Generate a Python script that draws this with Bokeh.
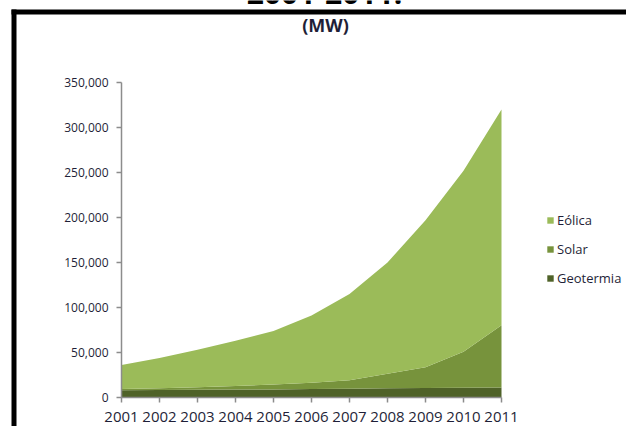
from bokeh.plotting import figure
from bokeh.models import (ColumnDataSource, Range1d, FixedTicker, NumeralTickFormatter,
                          Legend, LegendItem, Label, BoxAnnotation)
from bokeh.embed import file_html
from bokeh.resources import INLINE

years = [2001, 2002, 2003, 2004, 2005, 2006, 2007, 2008, 2009, 2010, 2011]
geotermia = [8000, 8200, 8500, 8800, 9000, 9400, 9800, 10300, 10600, 10800, 11200]
solar = [1500, 2200, 2800, 3900, 5400, 7000, 9500, 16000, 23000, 40000, 69000]
eolica = [26500, 33600, 41700, 50300, 59600, 74600, 95700, 123700, 163400, 201200, 239800]
series_names = ["Eólica", "Solar", "Geotermia"]
y_ticks = [0, 50000, 100000, 150000, 200000, 250000, 300000, 350000]
title_text = "2001-2011:"
subtitle_text = "(MW)"

colors = {"Eólica": "#9BBB59", "Solar": "#77933C", "Geotermia": "#4F6228"}
FONT = "Open Sans"
TXT = "#1f1f38"

# layout in page pixels
W, H = 626, 426
OX, OY = 0, 0                      # canvas origin on the page
AX_L, AX_R = 121, 501              # page x of first / last year
AX_B, AX_T = 397, 82               # page y of 0 / 350,000
x_per_px = (years[-1] - years[0]) / (AX_R - AX_L)
y_per_px = (y_ticks[-1] - y_ticks[0]) / (AX_B - AX_T)
x0 = years[0] + (OX - AX_L) * x_per_px
x1 = years[0] + (OX + W - AX_L) * x_per_px
y0 = (AX_B - (OY + H)) * y_per_px
y1 = (AX_B - OY) * y_per_px

def sx(px):
    return px - OX

def sy(py):
    return OY + H - py

source = ColumnDataSource(dict(year=years, geo=geotermia, solar=solar, wind=eolica))

p = figure(width=W, height=H, output_backend="svg", toolbar_location=None,
           x_range=Range1d(x0, x1), y_range=Range1d(y0, y1),
           min_border=0)
p.outline_line_color = None
p.xgrid.visible = False
p.ygrid.visible = False
p.background_fill_color = "white"
p.border_fill_color = "white"

rs = p.varea_stack(stackers=["geo", "solar", "wind"], x="year", source=source,
                   color=[colors["Geotermia"], colors["Solar"], colors["Eólica"]])

xa, ya = p.xaxis[0], p.yaxis[0]
for ax in (xa, ya):
    ax.axis_line_color = "#8c8c8c"
    ax.axis_line_width = 1.5
    ax.major_tick_line_color = "#8c8c8c"
    ax.major_tick_line_width = 1.5
    ax.major_tick_out = 5
    ax.major_tick_in = 0
    ax.minor_tick_line_color = None
    ax.major_label_text_font = FONT
    ax.major_label_text_color = TXT

xa.fixed_location = y_ticks[0]
xa.bounds = (years[0], years[-1])
xa.ticker = FixedTicker(ticks=years)
xa.major_label_text_font_size = "15px"
xa.major_label_standoff = 9

ya.fixed_location = years[0]
ya.bounds = (y_ticks[0], y_ticks[-1])
ya.ticker = FixedTicker(ticks=y_ticks)
ya.formatter = NumeralTickFormatter(format="0,0")
ya.major_label_text_font_size = "12px"
ya.major_label_standoff = 8

legend = Legend(items=[LegendItem(label=series_names[0], renderers=[rs[2]]),
                       LegendItem(label=series_names[1], renderers=[rs[1]]),
                       LegendItem(label=series_names[2], renderers=[rs[0]])],
                location=(sx(546), sy(287)), padding=0, margin=0, border_line_color=None,
                background_fill_alpha=0, glyph_width=8, glyph_height=8,
                label_text_font=FONT, label_text_font_size="13px", label_text_color=TXT,
                label_height=14, spacing=11, label_standoff=3)
p.add_layout(legend, "center")

# frame lines (left and top)
box_kw = dict(left_units="screen", right_units="screen", top_units="screen",
              bottom_units="screen", fill_color="black", fill_alpha=1, line_color=None)
p.add_layout(BoxAnnotation(left=sx(11), right=sx(16), top=sy(9), bottom=sy(440), **box_kw))
p.add_layout(BoxAnnotation(left=sx(11), right=sx(640), top=sy(9), bottom=sy(14), **box_kw))

p.add_layout(Label(x=sx(324), y=sy(-8), x_units="screen", y_units="screen", text=title_text,
                   text_font=FONT, text_font_size="30px", text_font_style="bold",
                   text_color="black", text_align="center", text_baseline="alphabetic"))
p.add_layout(Label(x=sx(325), y=sy(24), x_units="screen", y_units="screen", text=subtitle_text,
                   text_font=FONT, text_font_size="18px", text_font_style="bold",
                   text_color=TXT, text_align="center", text_baseline="alphabetic"))

open("out.html", "w").write(file_html(p, INLINE))
